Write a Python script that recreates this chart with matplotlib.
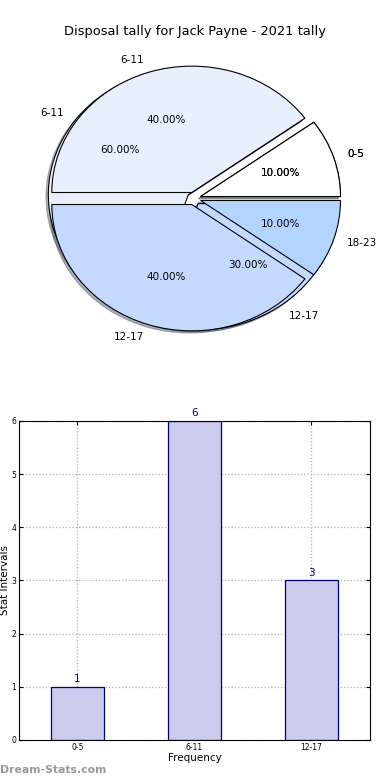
import matplotlib
matplotlib.use("Agg")
import matplotlib.pyplot as plt

# pie data (two overlaid tallies, as in the original)
pie1_labels = ['0-5', '6-11', '12-17']
pie1_values = [1, 6, 3]
pie2_labels = ['0-5', '6-11', '12-17', '18-23']
pie2_values = [1, 4, 4, 1]

# bar data
bar_labels = ['0-5', '6-11', '12-17']
bar_values = [1, 6, 3]

colour_map = {
    '0-5': '#ffffff',
    '6-11': '#e8f0ff',
    '12-17': '#c5d9ff',
    '18-23': '#b3d4ff',
}

fig = plt.figure(figsize=(3.9, 7.8), dpi=100)
fig.suptitle('Disposal tally for Jack Payne - 2021 tally', fontsize=9.4, y=0.968)

# Pie chart
ax1 = fig.add_axes([0.0487, 0.543, 0.897, 0.405])
for labels, values in [(pie1_labels, pie1_values), (pie2_labels, pie2_values)]:
    wedges, texts, autotexts = ax1.pie(
        values,
        labels=labels,
        colors=[colour_map[l] for l in labels],
        explode=[0.05] * len(values),
        autopct='%1.2f%%',
        shadow=dict(ox=-0.012, oy=-0.012, shade=0.55),
        startangle=0,
        wedgeprops=dict(edgecolor='black', linewidth=0.8),
        textprops=dict(fontsize=7.5),
    )
ax1.set_aspect('auto')
ax1.set_xlim(-1.25, 1.25)
ax1.set_ylim(-1.25, 1.25)

# Bar chart
ax2 = fig.add_axes([0.0487, 0.0513, 0.9, 0.409])
x = range(len(bar_values))
bars = ax2.bar(x, bar_values, width=0.45, color='#ccccee',
               edgecolor='#000080', linewidth=0.9, zorder=2)
for bar, v in zip(bars, bar_values):
    ax2.text(bar.get_x() + bar.get_width() / 2., v + 0.05, str(v),
             ha='center', va='bottom', fontsize=7.5, color='#000080')

ax2.set_xlim(-0.5, 2.5)
ax2.set_ylim(0, 6)
ax2.set_xticks(list(x))
ax2.set_xticklabels(bar_labels, fontsize=5.5)
ax2.set_yticks(range(0, 7))
ax2.tick_params(axis='y', labelsize=5.5)
ax2.tick_params(direction='in', top=True, right=True, length=3, pad=2)
ax2.grid(True, linestyle=':', color='#b0b0b0', linewidth=0.9, zorder=0)
ax2.set_axisbelow(True)
ax2.set_xlabel('Frequency', fontsize=7.5, labelpad=1)
ax2.set_ylabel('Stat Intervals', fontsize=7.5)
ax2.yaxis.set_label_coords(-0.027, 0.5)

fig.text(0.0, 0.013, 'Dream-Stats.com', fontsize=7.8, color='#999999',
         fontweight='bold', ha='left', va='center')

fig.savefig('out.png', dpi=100)
